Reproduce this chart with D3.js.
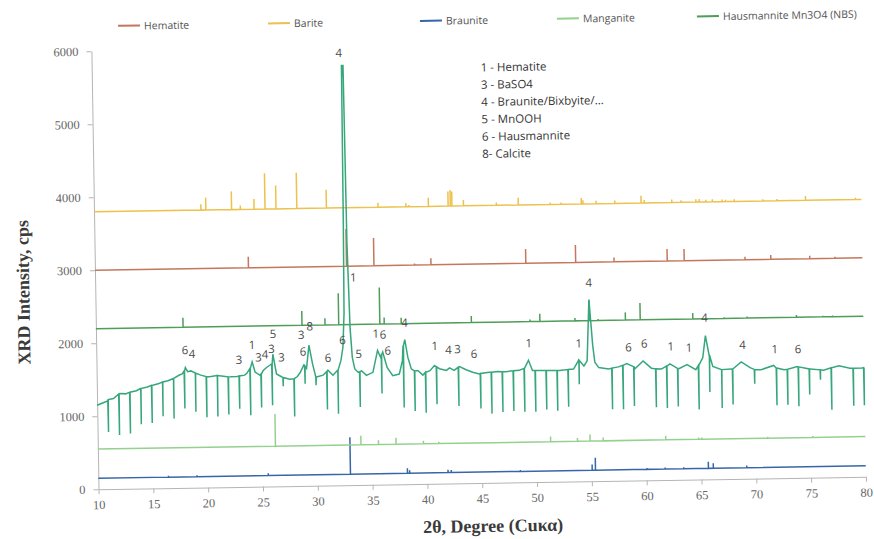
<!DOCTYPE html>
<html>
<head>
<meta charset="utf-8">
<script src="https://cdn.jsdelivr.net/npm/d3@7"></script>
<style>
  body { margin: 0; background: #fff; }
</style>
</head>
<body>
<div id="chart"></div>
<script>
// Axis ticks
const xTickVals = [10, 15, 20, 25, 30, 35, 40, 45, 50, 55, 60, 65, 70, 75, 80]
const yTickVals = [0, 1000, 2000, 3000, 4000, 5000, 6000]

// Reference patterns (stick positions in 2theta, stick heights in cps) + offsets
const bariteBase = 3800
const bariteDeg = [19.75, 20.2, 22.55, 23.35, 24.6, 25.6, 26.6, 28.5, 31.2, 35.9, 38.45, 38.7, 40.5, 42.3, 42.5, 42.65, 43.7, 46.7, 48.7, 51.6, 52.6, 54.45, 54.6, 55.8, 57.5, 59.9, 60.2, 62.7, 63.55, 64.9, 65.2, 65.8, 66.4, 67.3, 67.6, 68.4, 71.0, 72.3, 74.9, 79.45]
const bariteCps = [80, 170, 250, 55, 140, 490, 320, 490, 250, 60, 50, 25, 120, 200, 220, 200, 80, 40, 100, 25, 25, 80, 50, 40, 40, 100, 40, 40, 30, 40, 40, 30, 35, 30, 25, 30, 25, 25, 60, 25]

const hematiteBase = 3000
const hematiteDeg = [24.0, 32.95, 35.45, 39.15, 40.65, 49.3, 53.85, 57.35, 62.2, 63.75, 69.3, 71.65, 75.2, 77.5]
const hematiteCps = [150, 510, 380, 20, 90, 195, 240, 60, 165, 160, 40, 60, 40, 20]

const hausBase = 2200
const hausDeg = [17.95, 28.8, 30.9, 32.15, 35.9, 36.3, 37.85, 44.25, 49.6, 50.5, 53.7, 55.0, 55.8, 58.3, 59.65, 64.45, 67.3, 69.4, 73.9, 76.3, 77.2]
const hausCps = [130, 195, 90, 430, 500, 90, 80, 90, 30, 105, 40, 275, 20, 105, 230, 80, 15, 20, 30, 15, 15]

const manganiteBase = 550
const manganiteDeg = [26.2, 34.0, 35.6, 37.2, 39.7, 41.1, 51.3, 53.75, 54.9, 56.1, 61.8, 64.8, 65.1, 71.1, 75.2]
const manganiteCps = [440, 125, 60, 90, 40, 25, 70, 45, 90, 45, 55, 25, 25, 20, 20]

const braunBase = 150
const braunDeg = [16.4, 19.0, 25.5, 33.0, 38.2, 38.4, 41.9, 42.2, 48.5, 55.05, 55.35, 60.05, 61.7, 63.4, 65.65, 66.1, 69.15]
const braunCps = [20, 20, 30, 505, 70, 40, 40, 35, 20, 80, 170, 20, 20, 20, 90, 70, 30]

// Measured pattern: profile points
const measDeg = [10.0, 10.5, 10.97, 11.5, 12.2, 12.6, 13.1, 13.6, 14.0, 14.6,
  15.1, 15.6, 16.0, 16.5, 17.0, 17.5, 17.8, 18.1, 18.3, 18.6,
  19.0, 19.5, 20.3, 21.0, 21.57, 22.2, 22.8, 23.5, 23.7, 24.2,
  24.45, 24.9, 25.2, 25.5, 25.8, 26.1, 26.4, 26.85, 27.6, 28.3,
  28.55, 28.9, 29.15, 29.4, 29.7, 30.05, 30.65, 31.1, 31.55, 32.0,
  32.3, 32.5, 32.65, 32.72, 32.78, 32.85, 32.92, 33.02, 33.18, 33.34,
  33.55, 33.85, 34.15, 34.6, 35.2, 35.65, 35.9, 36.12, 36.5, 37.0,
  37.6, 37.9, 38.15, 38.4, 38.7, 39.3, 39.75, 40.4, 40.82, 41.27,
  41.9, 42.2, 42.6, 43.1, 43.7, 44.3, 44.9, 45.8, 46.6, 47.3,
  48.55, 49.4, 49.75, 50.95, 52.2, 53.5, 54.0, 54.45, 54.75, 55.0,
  55.28, 55.45, 55.8, 56.7, 57.6, 58.35, 59.1, 59.85, 60.6, 61.5,
  62.3, 63.15, 63.85, 64.65, 65.3, 65.57, 65.9, 66.2, 67.0, 67.9,
  68.8, 69.6, 70.6, 71.75, 72.7, 73.9, 75.1, 76.3, 77.7, 78.7,
  79.8, 80.0]
const measCps = [1150, 1180, 1207, 1240, 1305, 1300, 1325, 1340, 1370, 1390,
  1412, 1430, 1455, 1470, 1500, 1543, 1560, 1647, 1590, 1600,
  1570, 1540, 1515, 1530, 1520, 1510, 1512, 1530, 1555, 1710,
  1570, 1525, 1590, 1630, 1660, 1810, 1540, 1500, 1465, 1500,
  1550, 1655, 1610, 1925, 1673, 1490, 1512, 1580, 1510, 1575,
  1710, 1890, 2350, 3600, 5760, 5600, 5760, 3300, 2150, 1750,
  1590, 1545, 1565, 1500, 1540, 1840, 1750, 1815, 1605, 1490,
  1510, 1690, 1982, 1740, 1580, 1555, 1490, 1550, 1620, 1575,
  1550, 1585, 1550, 1600, 1555, 1520, 1495, 1515, 1525, 1520,
  1535, 1670, 1530, 1525, 1525, 1540, 1670, 1580, 1650, 2490,
  1860, 1630, 1555, 1535, 1560, 1603, 1530, 1635, 1535, 1520,
  1590, 1525, 1575, 1505, 1670, 1970, 1700, 1545, 1495, 1505,
  1600, 1520, 1490, 1545, 1485, 1525, 1490, 1470, 1525, 1490,
  1490, 1495]

// Measured pattern: the downward spikes (position, level before the drop, bottom)
const spikeDeg = [11, 12, 13, 14, 15, 16, 17, 18, 19, 20, 21, 22, 23, 24, 25, 26, 27, 28, 29, 30, 31, 32,
  34, 36, 38, 39, 40, 41, 43, 45, 46, 47, 48, 49, 50, 51, 52, 53, 54, 57, 58, 59, 61, 62, 63,
  64.9, 65.9, 67, 68, 70, 72, 73, 74, 75, 76, 77, 79, 79.97]
const spikeTop = [1225, 1300, 1320, 1370, 1410, 1455, 1500, 1600, 1570, 1520, 1530, 1510, 1520, 1620, 1540, 1680, 1490, 1470, 1640, 1490, 1560, 1575,
  1550, 1780, 1900, 1550, 1530, 1600, 1590, 1500, 1515, 1520, 1530, 1560, 1530, 1525, 1525, 1535, 1660, 1545, 1580, 1560, 1525, 1560, 1525,
  1560, 1700, 1500, 1505, 1495, 1510, 1490, 1520, 1490, 1475, 1500, 1490, 1495]
const spikeLow = [782, 737, 757, 880, 896, 984, 952, 1087, 1040, 962, 970, 993, 1070, 978, 1082, 1112, 1370, 952, 1400, 1376, 1040, 982,
  1068, 1248, 1050, 1000, 975, 1090, 1060, 1020, 948, 968, 980, 965, 963, 993, 972, 1025, 1330, 980, 980, 1020, 1000, 985, 1005,
  960, 1197, 975, 1020, 1300, 1000, 1005, 980, 1140, 1340, 925, 975, 980]

// Phase numbers written on the chart
const labelText = ['4', '1', '3', '8', '1', '6', '4', '4', '4',
  '6', '4', '3', '1', '3', '4', '3', '5', '3', '6', '6', '6', '5', '6', '1', '4', '3', '6', '1', '1', '6', '6', '1', '1', '4', '1', '6']
const labelDeg = [32.55, 33.55, 28.72, 29.5, 35.5, 36.17, 38.15, 55.0, 65.52,
  18.1, 18.72, 23.0, 24.2, 24.78, 25.38, 25.98, 26.15, 26.88, 28.85, 31.12, 32.48, 33.94, 36.57, 40.88, 42.12, 42.94, 44.45,
  49.45, 54.0, 58.55, 59.97, 62.4, 64.06, 68.94, 71.88, 74.0]
const labelCps = [5930, 2850, 2075, 2190, 2075, 2060, 2220, 2725, 2220,
  1890, 1840, 1745, 1950, 1775, 1815, 1890, 2095, 1770, 1845, 1755, 1995, 1800, 1840, 1895, 1835, 1845, 1775,
  1910, 1895, 1830, 1880, 1835, 1815, 1840, 1775, 1770]

const legendNames = ['Hematite', 'Barite', 'Braunite', 'Manganite', 'Hausmannite Mn3O4 (NBS)']
const keyLines = ['1 - Hematite', '3 - BaSO4', '4 - Braunite/Bixbyite/...', '5 - MnOOH', '6 - Hausmannite', '8- Calcite']

// Colours
const col = {
    hematite: '#c4775c',
    barite: '#ecc14e',
    braunite: '#3766a8',
    manganite: '#95d18e',
    haus: '#4f9d58',
    meas: '#36a77c'
}

const W = 874, H = 539
const svg = d3.select('#chart').append('svg')
    .attr('width', W)
    .attr('height', H)

// the scanned original is slightly tilted, so the whole chart is too
const g = svg.append('g').attr('transform', 'rotate(-0.93,480,270)')

const x = d3.scaleLinear().domain([10, 80]).range([95, 862.5])
const y = d3.scaleLinear().domain([0, 6000]).range([483, 45])

// Axes
const xAxis = g.append('g')
    .attr('transform', 'translate(0,' + y(0) + ')')
    .call(d3.axisBottom(x).tickValues(xTickVals).tickSize(5).tickSizeOuter(0).tickPadding(6))
const yAxis = g.append('g')
    .attr('transform', 'translate(' + x(10) + ',0)')
    .call(d3.axisLeft(y).tickValues(yTickVals).tickFormat(d3.format('d')).tickSize(5).tickSizeOuter(0).tickPadding(8))

;[xAxis, yAxis].forEach(a => {
    a.select('.domain').attr('stroke', '#b5b5b5')
    a.selectAll('.tick line').attr('stroke', '#b5b5b5')
    a.selectAll('.tick text')
        .attr('fill', '#666')
        .style('font-family', '"Liberation Serif", "DejaVu Serif", serif')
        .style('font-size', '12.5px')
})

// Axis titles
g.append('text')
    .attr('transform', 'translate(23,285) rotate(-90)')
    .attr('text-anchor', 'middle')
    .attr('dominant-baseline', 'central')
    .style('font-family', '"Liberation Serif", serif')
    .style('font-weight', 'bold')
    .style('font-size', '18px')
    .attr('fill', '#3a3a3a')
    .text('XRD Intensity, cps')

g.append('text')
    .attr('x', 489)
    .attr('y', 532)
    .attr('text-anchor', 'middle')
    .style('font-family', '"Liberation Serif", serif')
    .style('font-weight', 'bold')
    .style('font-size', '18px')
    .attr('fill', '#3a3a3a')
    .text('2θ, Degree (Cuκα)')

// Stick patterns
const line = d3.line().x(d => x(d[0])).y(d => y(d[1]))

function stickPoints(base, degs, hs) {
    const pts = [[10, base]]
    degs.forEach((d, i) => {
        pts.push([d, base], [d, base + hs[i]], [d, base])
    })
    pts.push([80, base])
    return pts
}

const refs = [
    [braunBase, braunDeg, braunCps, col.braunite],
    [manganiteBase, manganiteDeg, manganiteCps, col.manganite],
    [hausBase, hausDeg, hausCps, col.haus],
    [hematiteBase, hematiteDeg, hematiteCps, col.hematite],
    [bariteBase, bariteDeg, bariteCps, col.barite]
]
refs.forEach(r => {
    g.append('path')
        .attr('d', line(stickPoints(r[0], r[1], r[2])))
        .attr('fill', 'none')
        .attr('stroke', r[3])
        .attr('stroke-width', 1.5)
})

// Measured pattern: profile merged with the spikes
let measPts = measDeg.map((d, i) => [d, measCps[i]])
spikeDeg.forEach((d, i) => {
    measPts.push([d - 0.02, spikeTop[i]], [d, spikeLow[i]], [d + 0.02, spikeTop[i]])
})
measPts.sort((a, b) => a[0] - b[0])

g.append('path')
    .attr('d', line(measPts))
    .attr('fill', 'none')
    .attr('stroke', col.meas)
    .attr('stroke-width', 1.5)

// Phase numbers
g.selectAll('.plabel')
    .data(labelText)
    .enter()
    .append('text')
    .attr('class', 'plabel')
    .attr('x', (d, i) => x(labelDeg[i]))
    .attr('y', (d, i) => y(labelCps[i]))
    .attr('text-anchor', 'middle')
    .attr('dominant-baseline', 'central')
    .style('font-family', '"Open Sans", sans-serif')
    .style('font-size', '11.5px')
    .attr('fill', '#4a4a4a')
    .text(d => d)

// Key in the upper right
g.selectAll('.key')
    .data(keyLines)
    .enter()
    .append('text')
    .attr('class', 'key')
    .attr('x', 484)
    .attr('y', (d, i) => 67 + i * 17.3)
    .attr('dominant-baseline', 'central')
    .style('font-family', '"Open Sans", sans-serif')
    .style('font-size', '11.5px')
    .attr('fill', '#333')
    .text(d => d)

// Legend on top
const legendCols = [col.hematite, col.barite, col.braunite, col.manganite, col.haus]
const legendX = [122, 272, 424, 561, 701]
const legend = g.selectAll('.leg')
    .data(legendNames)
    .enter()
    .append('g')
    .attr('class', 'leg')
    .attr('transform', (d, i) => 'translate(' + legendX[i] + ',20)')
legend.append('line')
    .attr('x1', 0).attr('x2', 22)
    .attr('stroke', (d, i) => legendCols[i])
    .attr('stroke-width', 2)
legend.append('text')
    .attr('x', 26)
    .attr('dominant-baseline', 'central')
    .style('font-family', '"Open Sans", sans-serif')
    .style('font-size', '10.5px')
    .attr('fill', '#555')
    .text(d => d)
</script>
</body>
</html>
